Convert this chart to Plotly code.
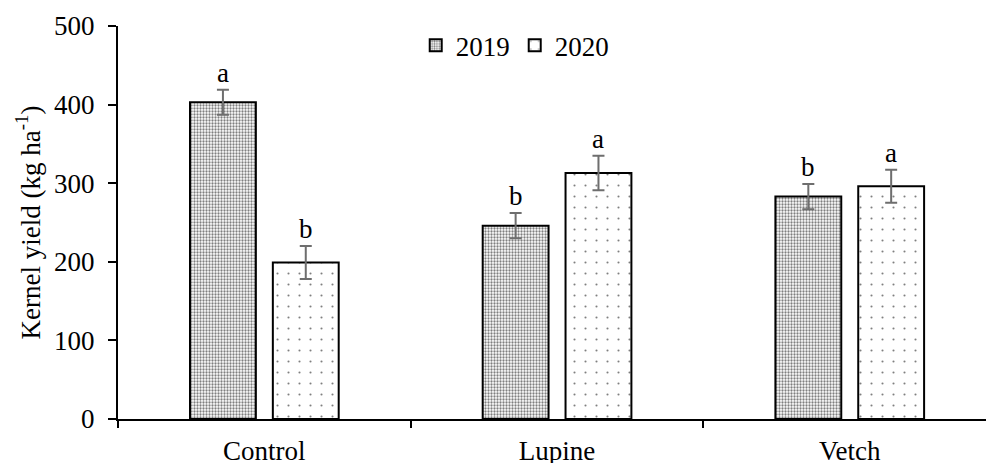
import plotly.graph_objects as go

categories = ["Control", "Lupine", "Vetch"]
years = ["2019", "2020"]
yield_2019 = [403, 246, 283]
yield_2020 = [199, 313, 296]
err_2019 = [16, 16, 16]
err_2020 = [21, 22, 21]
letters_2019 = ["a", "b", "b"]
letters_2020 = ["b", "a", "a"]
y_ticks = [0, 100, 200, 300, 400, 500]

FONT = "Liberation Serif"
FS = 27

bar_w = 0.225
half_sep = 0.1415
xs = list(range(len(categories)))

fig = go.Figure()
series = [
    ("2019", yield_2019, err_2019, -half_sep, dict(shape=".", size=3, solidity=0.45)),
    ("2020", yield_2020, err_2020, half_sep, dict(shape=".", size=11, solidity=0.03)),
]
for name, vals, errs, shift, pat in series:
    fig.add_trace(go.Bar(
        name=name,
        x=xs,
        y=vals,
        width=bar_w,
        offset=shift - bar_w / 2,
        marker=dict(
            color="white",
            line=dict(color="black", width=2),
            pattern=dict(fgcolor="black", bgcolor="white", fillmode="overlay", **pat),
        ),
        error_y=dict(type="data", array=errs, visible=True, color="#6e6e6e",
                     thickness=2, width=6),
    ))

for vals, errs, letters, shift in [
    (yield_2019, err_2019, letters_2019, -half_sep),
    (yield_2020, err_2020, letters_2020, half_sep),
]:
    for i, (v, e, t) in enumerate(zip(vals, errs, letters)):
        fig.add_annotation(x=i + shift, y=v + e, text=t, showarrow=False,
                           yanchor="bottom", yshift=0,
                           font=dict(family=FONT, size=FS, color="black"))

fig.update_layout(
    width=986, height=463,
    margin=dict(l=118, r=0, t=26, b=44),
    paper_bgcolor="white", plot_bgcolor="white",
    font=dict(family=FONT, size=FS, color="black"),
    showlegend=True,
    legend=dict(orientation="h", x=0.343, xanchor="left", y=0.95, yanchor="middle",
                bgcolor="rgba(0,0,0,0)", font=dict(family=FONT, size=FS),
                entrywidth=54, entrywidthmode="pixels", itemwidth=30, traceorder="normal"),
    xaxis=dict(
        range=[-0.5, -0.5 + 868 / 292.7], automargin=False,
        tickmode="array", tickvals=xs, ticktext=categories,
        ticks="", showline=True, linecolor="black", linewidth=2,
        showgrid=False, zeroline=False, ticklabelstandoff=7,
        minor=dict(tickmode="linear", tick0=-0.5, dtick=1, ticks="outside",
                   ticklen=7, tickwidth=2, tickcolor="black", showgrid=False),
        tickfont=dict(family=FONT, size=FS),
    ),
    yaxis=dict(
        range=[0, 500], tickmode="array", tickvals=y_ticks, automargin=False,
        ticks="outside", ticklen=8, tickwidth=2, tickcolor="black",
        showline=True, linecolor="black", linewidth=2,
        showgrid=False, zeroline=False, ticklabelstandoff=8,
        title=dict(text="Kernel yield (kg ha<sup>-1</sup>)", standoff=6,
                   font=dict(family=FONT, size=FS)),
        tickfont=dict(family=FONT, size=FS),
    ),
)

fig.write_html("out.html")
